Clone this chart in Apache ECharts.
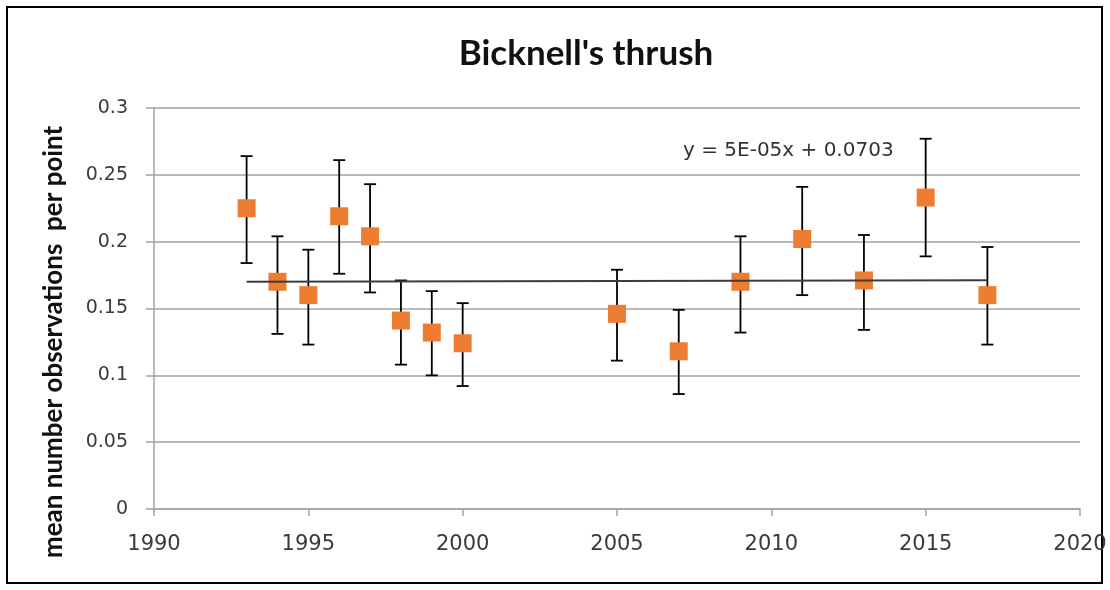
<!DOCTYPE html>
<html>
<head>
<meta charset="utf-8">
<script src="https://cdn.jsdelivr.net/npm/echarts@6/dist/echarts.min.js"></script>
<style>
  html, body { margin: 0; padding: 0; background: #ffffff; }
  #chart { width: 1110px; height: 590px; }
</style>
</head>
<body>
<div id="chart"></div>
<script>
// Survey years and mean number of Bicknell's thrush observations per point,
// with the upper and lower ends of each error bar.
const years = [1993, 1994, 1995, 1996, 1997, 1998, 1999, 2000, 2005, 2007, 2009, 2011, 2013, 2015, 2017];
const means = [0.225, 0.170, 0.160, 0.219, 0.204, 0.141, 0.132, 0.124, 0.146, 0.118, 0.170, 0.202, 0.171, 0.233, 0.160];
const upper = [0.264, 0.204, 0.194, 0.261, 0.243, 0.171, 0.163, 0.154, 0.179, 0.149, 0.204, 0.241, 0.205, 0.277, 0.196];
const lower = [0.184, 0.131, 0.123, 0.176, 0.162, 0.108, 0.100, 0.092, 0.111, 0.086, 0.132, 0.160, 0.134, 0.189, 0.123];

// Linear trend as printed on the chart
const trendSlope = 5e-5;
const trendIntercept = 0.0703;
const trendLabel = 'y = 5E-05x + 0.0703';

const titleText = "Bicknell's thrush";
const yAxisTitle = 'mean number observations  per point';

const chart = echarts.init(document.getElementById('chart'));

const pointData = years.map((y, i) => [y, means[i]]);
const barData = years.map((y, i) => [y, lower[i], upper[i]]);
const firstYear = years[0];
const lastYear = years[years.length - 1];
const trendData = [
  [firstYear, trendSlope * firstYear + trendIntercept],
  [lastYear, trendSlope * lastYear + trendIntercept]
];

const gridColor = '#a3a3a3';
const labelColor = '#3a3a3a';

chart.setOption({
  animation: false,
  backgroundColor: '#ffffff',
  title: {
    text: titleText,
    left: 581,
    textAlign: 'center',
    top: 31,
    textStyle: { fontFamily: 'Lato', fontWeight: 'bold', fontSize: 35, color: '#111111' }
  },
  grid: { left: 154, right: 30, top: 108, bottom: 81 },
  xAxis: {
    type: 'value',
    min: 1990,
    max: 2020,
    interval: 5,
    splitLine: { show: false },
    axisLine: { show: true, lineStyle: { color: gridColor, width: 1.5 } },
    axisTick: { show: true, length: 7, lineStyle: { color: gridColor, width: 1.5 } },
    axisLabel: {
      margin: 25,
      color: labelColor,
      fontFamily: 'DejaVu Sans',
      fontSize: 21,
      formatter: v => String(v)
    }
  },
  yAxis: {
    type: 'value',
    min: 0,
    max: 0.3,
    interval: 0.05,
    splitLine: { show: true, lineStyle: { color: gridColor, width: 1.5 } },
    axisLine: { show: true, lineStyle: { color: gridColor, width: 1.5 } },
    axisTick: { show: true, length: 8, lineStyle: { color: gridColor, width: 1.5 } },
    axisLabel: {
      margin: 26,
      color: labelColor,
      fontFamily: 'DejaVu Sans',
      fontSize: 19
    }
  },
  graphic: [
    {
      type: 'rect',
      silent: true,
      shape: { x: 7, y: 7, width: 1095, height: 576 },
      style: { fill: 'none', stroke: '#000000', lineWidth: 2 }
    },
    {
      type: 'text',
      silent: true,
      x: 54,
      y: 342,
      rotation: Math.PI / 2,
      style: {
        text: yAxisTitle,
        fontFamily: 'Lato',
        fontWeight: 'bold',
        fontSize: 26,
        fill: '#111111',
        align: 'center',
        verticalAlign: 'middle'
      }
    },
    {
      type: 'text',
      silent: true,
      left: 683,
      top: 141,
      style: {
        text: trendLabel,
        fontFamily: 'DejaVu Sans',
        fontSize: 20,
        fill: '#333333'
      }
    }
  ],
  series: [
    {
      name: 'error',
      type: 'custom',
      data: barData,
      z: 2,
      renderItem: function (params, api) {
        const x = api.value(0);
        const lo = api.coord([x, api.value(1)]);
        const hi = api.coord([x, api.value(2)]);
        const cap = 6;
        const style = { stroke: '#000000', lineWidth: 1.8 };
        return {
          type: 'group',
          children: [
            { type: 'line', shape: { x1: lo[0], y1: lo[1], x2: hi[0], y2: hi[1] }, style: style },
            { type: 'line', shape: { x1: hi[0] - cap, y1: hi[1], x2: hi[0] + cap, y2: hi[1] }, style: style },
            { type: 'line', shape: { x1: lo[0] - cap, y1: lo[1], x2: lo[0] + cap, y2: lo[1] }, style: style }
          ]
        };
      }
    },
    {
      name: 'mean',
      type: 'scatter',
      data: pointData,
      symbol: 'rect',
      symbolSize: 18,
      z: 3,
      itemStyle: { color: '#ED7D31', opacity: 1 }
    },
    {
      name: 'trend',
      type: 'line',
      data: trendData,
      symbol: 'none',
      z: 4,
      lineStyle: { color: '#3c3c3c', width: 2 }
    }
  ]
});
</script>
</body>
</html>
